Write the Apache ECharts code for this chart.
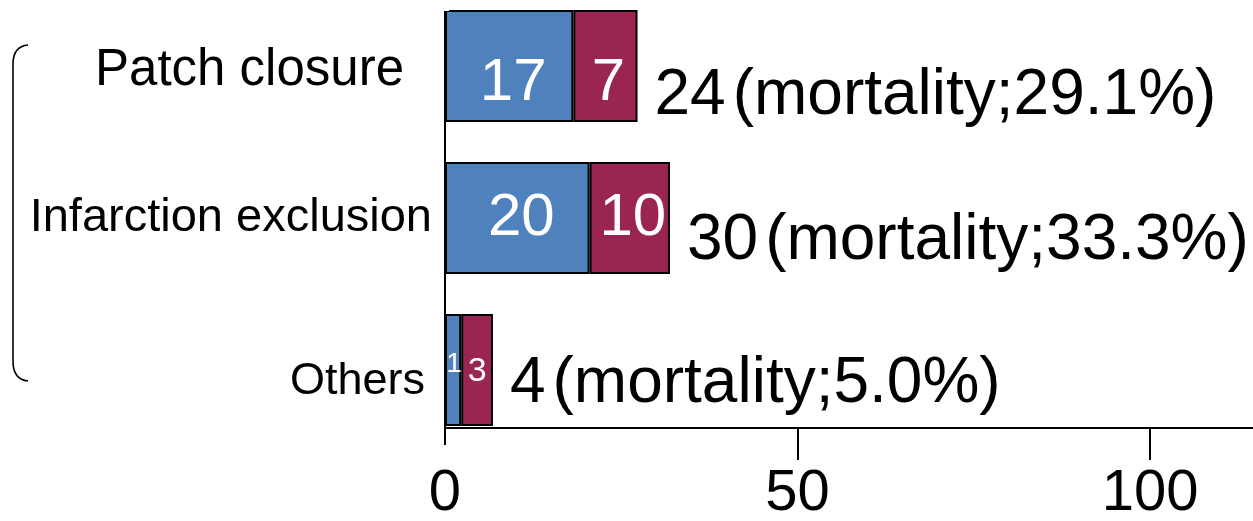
<!DOCTYPE html>
<html>
<head>
<meta charset="utf-8">
<script src="https://cdn.jsdelivr.net/npm/echarts@6/dist/echarts.min.js"></script>
<style>
  html, body { margin: 0; padding: 0; background: #fff; overflow: hidden; }
  #chart { position: absolute; left: 0; top: -10px; width: 1253px; height: 531px; }
</style>
</head>
<body>
<div id="chart"></div>
<script>
// ---- data ----
const categories = ['Patch closure', 'Infarction exclusion', 'Others'];
// bar lengths as drawn against the axis
const survivedBar = [18.2, 20.5, 2.3];
const diedBar = [9.1, 11.4, 4.5];
// numbers printed on the bars
const survivedText = ['17', '20', '1'];
const diedText = ['7', '10', '3'];
const totalText = ['24', '30', '4'];
const mortalityText = ['29.1%', '33.3%', '5.0%'];
const xTicks = [0, 50, 100];

// ---- styling ----
const FONT = 'Liberation Sans';
const BLUE = '#4f81bd';
const RED = '#9b2552';
const totalOffsets = [[0, 30], [0, 23], [0, 14]];
const innerOffsetY = [17, 0, 0];

const chart = echarts.init(document.getElementById('chart'), null, { renderer: 'canvas' });

const blueData = survivedBar.map((v, i) => {
  const item = { value: v, label: { offset: [4, innerOffsetY[i]] } };
  if (i === 2) item.label = { fontSize: 28, offset: [1, -6] };
  return item;
});
const redData = diedBar.map((v, i) => {
  const item = { value: v, label: { offset: [3, innerOffsetY[i]] } };
  if (i === 2) item.label = { fontSize: 34, offset: [0, 2] };
  return item;
});
const totalData = totalText.map((t, i) => ({
  value: 0,
  label: { offset: totalOffsets[i] }
}));

const braceStyle = { stroke: '#000', lineWidth: 1.6, fill: null };
const dy = 10; // canvas is shifted up by 10px

const option = {
  animation: false,
  backgroundColor: '#ffffff',
  textStyle: { fontFamily: FONT, color: '#000' },
  grid: { left: 445, right: -3, top: 0, bottom: 75, containLabel: false, outerBoundsMode: 'none' },
  xAxis: {
    type: 'value',
    min: 0,
    max: 115,
    interval: 50,
    offset: -18,
    splitLine: { show: false },
    axisLine: { show: true, lineStyle: { color: '#000', width: 2 } },
    axisTick: { show: true, length: 32, lineStyle: { color: '#000', width: 2 } },
    axisLabel: {
      fontSize: 58,
      color: '#000',
      fontFamily: FONT,
      margin: 37,
      showMaxLabel: false,
      formatter: v => (xTicks.indexOf(v) >= 0 ? String(v) : '')
    }
  },
  yAxis: {
    type: 'category',
    inverse: true,
    data: categories,
    axisLine: { show: true, lineStyle: { color: '#000', width: 2 } },
    axisTick: { show: false },
    axisLabel: {
      margin: 13,
      color: '#000',
      fontFamily: FONT,
      formatter: (v, i) => ['{p|', '{i|', '{o|'][i] + v + '}',
      rich: {
        p: { fontSize: 51, fontFamily: FONT, color: '#000', padding: [10, 28, 0, 0] },
        i: { fontSize: 47, fontFamily: FONT, color: '#000', padding: [0, 0, 0, 0] },
        o: { fontSize: 45, fontFamily: FONT, color: '#000', padding: [24, 7, 0, 0] }
      }
    }
  },
  graphic: [
    {
      type: 'rect',
      z: 100,
      shape: { x: 442, y: 0, width: 7, height: dy + 11 },
      style: { fill: '#fff' }
    },
    {
      type: 'rect',
      z: 100,
      shape: { x: 442, y: 445 + dy, width: 7, height: 18 },
      style: { fill: '#fff' }
    },
    {
      type: 'bezierCurve',
      shape: { x1: 28, y1: 45 + dy, cpx1: 17, cpy1: 46 + dy, cpx2: 13, cpy2: 54 + dy, x2: 13, y2: 64 + dy },
      style: braceStyle
    },
    {
      type: 'line',
      shape: { x1: 13, y1: 64 + dy, x2: 13, y2: 361 + dy },
      style: braceStyle
    },
    {
      type: 'bezierCurve',
      shape: { x1: 13, y1: 361 + dy, cpx1: 13, cpy1: 372 + dy, cpx2: 17, cpy2: 380 + dy, x2: 28, y2: 381 + dy },
      style: braceStyle
    }
  ],
  series: [
    {
      name: 'survived',
      type: 'bar',
      stack: 'total',
      barWidth: 112,
      data: blueData,
      itemStyle: { color: BLUE, borderColor: '#000', borderWidth: 2 },
      label: {
        show: true,
        position: 'inside',
        color: '#fff',
        fontSize: 60,
        fontFamily: FONT,
        formatter: p => survivedText[p.dataIndex]
      }
    },
    {
      name: 'died',
      type: 'bar',
      stack: 'total',
      barWidth: 112,
      data: redData,
      itemStyle: { color: RED, borderColor: '#000', borderWidth: 2 },
      label: {
        show: true,
        position: 'inside',
        color: '#fff',
        fontSize: 60,
        fontFamily: FONT,
        formatter: p => diedText[p.dataIndex]
      }
    },
    {
      name: 'total',
      type: 'bar',
      stack: 'total',
      barWidth: 112,
      data: totalData,
      itemStyle: { color: 'rgba(0,0,0,0)', borderWidth: 0 },
      label: {
        show: true,
        position: 'right',
        distance: 17,
        color: '#000',
        fontFamily: FONT,
        formatter: p => '{n|' + totalText[p.dataIndex] + '}{m|(mortality;' + mortalityText[p.dataIndex] + ')}',
        rich: {
          n: { fontSize: 64, fontFamily: FONT, color: '#000', padding: [0, 7, 0, 0] },
          m: { fontSize: 64, fontFamily: FONT, color: '#000' }
        }
      }
    }
  ]
};

chart.setOption(option);
</script>
</body>
</html>
